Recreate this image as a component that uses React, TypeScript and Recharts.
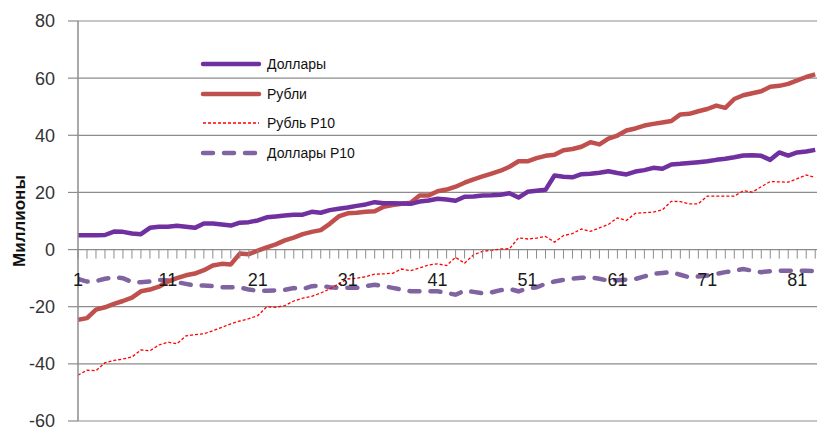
import React from 'react';
import { LineChart, Line, XAxis, YAxis, CartesianGrid } from 'recharts';

const periods = Array.from({ length: 83 }, (_, k) => k + 1);

const dollars = [
    5.0, 5.0, 5.0, 5.1, 6.3, 6.2, 5.6, 5.4, 7.6, 8.0,
    8.0, 8.3, 8.0, 7.6, 9.1, 9.1, 8.8, 8.4, 9.4, 9.6,
    10.2, 11.3, 11.6, 11.9, 12.2, 12.2, 13.2, 12.9, 13.8, 14.3,
    14.7, 15.3, 15.8, 16.6, 16.2, 16.2, 16.1, 16.0, 16.8, 17.2,
    17.8, 17.5, 17.1, 18.5, 18.6, 18.9, 19.0, 19.2, 19.7, 18.2,
    20.2, 20.6, 20.9, 25.9, 25.5, 25.3, 26.4, 26.5, 26.9, 27.4,
    26.8, 26.3, 27.3, 27.8, 28.6, 28.3, 29.8, 30.0, 30.3, 30.6,
    30.9, 31.4, 31.8, 32.3, 32.9, 33.0, 32.8, 31.4, 34.0, 32.9,
    34.0, 34.3, 34.9,
];

const rubles = [
    -24.6, -24.0, -21.0, -20.2, -19.0, -18.0, -16.8, -14.6, -14.0, -13.0,
    -11.2, -10.0, -9.0, -8.4, -7.2, -5.6, -5.0, -5.2, -1.4, -1.6,
    -0.4, 0.8, 1.8, 3.2, 4.2, 5.4, 6.2, 6.8, 9.0, 11.6,
    12.7, 12.9, 13.2, 13.4, 15.0, 15.6, 16.0, 16.4, 18.9, 18.9,
    20.4, 21.0, 22.0, 23.4, 24.6, 25.6, 26.6, 27.6, 29.0, 30.9,
    30.9, 32.0, 32.8, 33.2, 34.8, 35.2, 36.0, 37.6, 36.8, 38.8,
    39.9, 41.7, 42.4, 43.4, 44.0, 44.5, 45.0, 47.3, 47.5, 48.4,
    49.2, 50.4, 49.6, 52.7, 54.0, 54.7, 55.4, 57.0, 57.3, 58.0,
    59.2, 60.4, 61.3,
];

const rublesP10 = [
    -44.0, -42.2, -42.4, -39.6, -38.8, -38.3, -37.6, -35.1, -35.4, -33.4,
    -32.4, -33.0, -30.2, -29.8, -29.5, -28.4, -27.2, -26.0, -25.0, -24.2,
    -23.1, -20.0, -20.2, -19.6, -18.0, -17.0, -16.4, -15.2, -13.8, -12.0,
    -10.3, -10.0, -9.5, -8.6, -8.5, -8.3, -6.8, -7.4, -6.4, -5.4,
    -5.0, -5.6, -2.7, -4.8, -1.8, -0.6, -0.3, 0.2, 0.3, 4.1,
    3.7, 4.0, 4.6, 2.6, 4.9, 5.6, 7.2, 6.4, 7.6, 8.8,
    11.1, 10.2, 12.7, 12.9, 13.1, 13.9, 16.9, 16.8, 16.0, 16.0,
    18.7, 18.7, 18.7, 18.7, 20.6, 20.1, 22.0, 23.8, 23.7, 23.6,
    24.8, 26.1, 25.2,
];

const dollarsP10 = [
    -10.3, -11.2, -11.0, -10.2, -9.7, -10.0, -11.4, -11.4, -11.2, -10.6,
    -10.8, -11.4, -12.0, -12.6, -12.6, -12.8, -13.2, -13.2, -13.2, -14.0,
    -14.4, -14.4, -14.3, -14.1, -13.5, -13.8, -12.8, -12.6, -13.2, -13.4,
    -13.4, -13.4, -12.8, -12.3, -12.8, -13.4, -14.0, -14.6, -14.6, -14.6,
    -14.6, -15.2, -15.8, -14.4, -14.8, -15.3, -15.0, -14.2, -13.8, -14.6,
    -13.6, -13.2, -12.0, -11.2, -10.6, -10.2, -9.9, -9.7, -10.2, -10.9,
    -10.7, -10.5, -10.3, -9.4, -8.5, -8.2, -7.9, -8.8, -9.7, -9.4,
    -9.1, -8.5, -7.9, -7.4, -6.8, -7.4, -7.9, -7.6, -7.4, -7.4,
    -7.4, -7.4, -7.5,
];

const yTicks = [-60, -40, -20, 0, 20, 40, 60, 80];

const data = periods.map((p, k) => ({
    p,
    dollars: dollars[k],
    rubles: rubles[k],
    rublesP10: rublesP10[k],
    dollarsP10: dollarsP10[k],
}));

const W = 817;
const H = 428;
const TOP = 21;
const BOTTOM = 6;
const X_H = 1;
const Y_MIN = -60;
const Y_MAX = 80;
const AXIS = '#8c8c8c';
const FONT = '"Liberation Sans", Arial, sans-serif';

// x axis crosses at value 0, so its ticks are placed from the y range
const plotH = H - TOP - BOTTOM - X_H;
const zeroY = TOP + plotH * (Y_MAX - 0) / (Y_MAX - Y_MIN);

const CategoryTick = (props: any) => {
    const { x, payload } = props;
    const v = payload.value;
    return (
        <g>
            <line x1={x} x2={x} y1={zeroY} y2={zeroY + 9} stroke={AXIS} strokeWidth={1} />
            {(v - 1) % 10 === 0 && (
                <text x={x} y={zeroY + 36} textAnchor="middle" fontSize={18} fill="#1a1a1a" fontFamily={FONT}>
                    {v}
                </text>
            )}
        </g>
    );
};

const legendItems = [
    { label: 'Доллары', color: '#7030A0', width: 4.5, dash: undefined, cap: 'round' },
    { label: 'Рубли', color: '#C0504D', width: 4.5, dash: undefined, cap: 'round' },
    { label: 'Рубль Р10', color: '#FF0000', width: 1.3, dash: '3 2', cap: 'butt' },
    { label: 'Доллары Р10', color: '#8064A2', width: 4.5, dash: '10 11', cap: 'round' },
];

const ChartLegend = () => (
    <div style={{ position: 'absolute', left: 200, top: 49, fontFamily: FONT, fontSize: 14, color: '#111' }}>
        {legendItems.map((it) => (
            <div key={it.label} style={{ display: 'flex', alignItems: 'center', height: 29.7 }}>
                <svg width={64} height={10} style={{ marginRight: 3 }}>
                    <line x1={3} x2={59} y1={5} y2={5} stroke={it.color} strokeWidth={it.width}
                        strokeDasharray={it.dash} strokeLinecap={it.cap as any} />
                </svg>
                <span>{it.label}</span>
            </div>
        ))}
    </div>
);

export default function App() {
    return (
        <div style={{ position: 'absolute', left: 0, top: 0, width: W, height: H, background: '#fff' }}>
            <LineChart width={W} height={H} data={data} margin={{ top: TOP, right: 0, bottom: BOTTOM, left: 0 }}>
                <CartesianGrid vertical={false} stroke={AXIS} strokeWidth={1.2} />
                <XAxis
                    dataKey="p"
                    type="number"
                    domain={[1, 83.2]}
                    ticks={periods}
                    interval={0}
                    allowDataOverflow
                    height={X_H}
                    axisLine={false}
                    tickLine={false}
                    tick={<CategoryTick />}
                />
                <YAxis
                    domain={[Y_MIN, Y_MAX]}
                    ticks={yTicks}
                    interval={0}
                    width={78}
                    axisLine={{ stroke: AXIS, strokeWidth: 1.5 }}
                    tickLine={{ stroke: AXIS, strokeWidth: 1.2 }}
                    tickSize={10}
                    tickMargin={13}
                    tick={{ fontSize: 18, fill: '#333', fontFamily: FONT }}
                    label={{
                        value: 'Миллионы', angle: -90, position: 'insideLeft', dx: 14, dy: 0,
                        style: { fontFamily: FONT, fontSize: 17, fontWeight: 'bold', fill: '#111', textAnchor: 'middle' },
                    }}
                />
                <Line dataKey="dollarsP10" name="Доллары Р10" stroke="#8064A2" strokeWidth={4.5} strokeDasharray="10 11"
                    strokeLinecap="round" dot={false} isAnimationActive={false} />
                <Line dataKey="rublesP10" name="Рубль Р10" stroke="#FF0000" strokeWidth={1.3} strokeDasharray="3 2"
                    dot={false} isAnimationActive={false} />
                <Line dataKey="rubles" name="Рубли" stroke="#C0504D" strokeWidth={4.5} strokeLinejoin="round"
                    dot={false} isAnimationActive={false} />
                <Line dataKey="dollars" name="Доллары" stroke="#7030A0" strokeWidth={4.5} strokeLinejoin="round"
                    dot={false} isAnimationActive={false} />
            </LineChart>
            <ChartLegend />
        </div>
    );
}
